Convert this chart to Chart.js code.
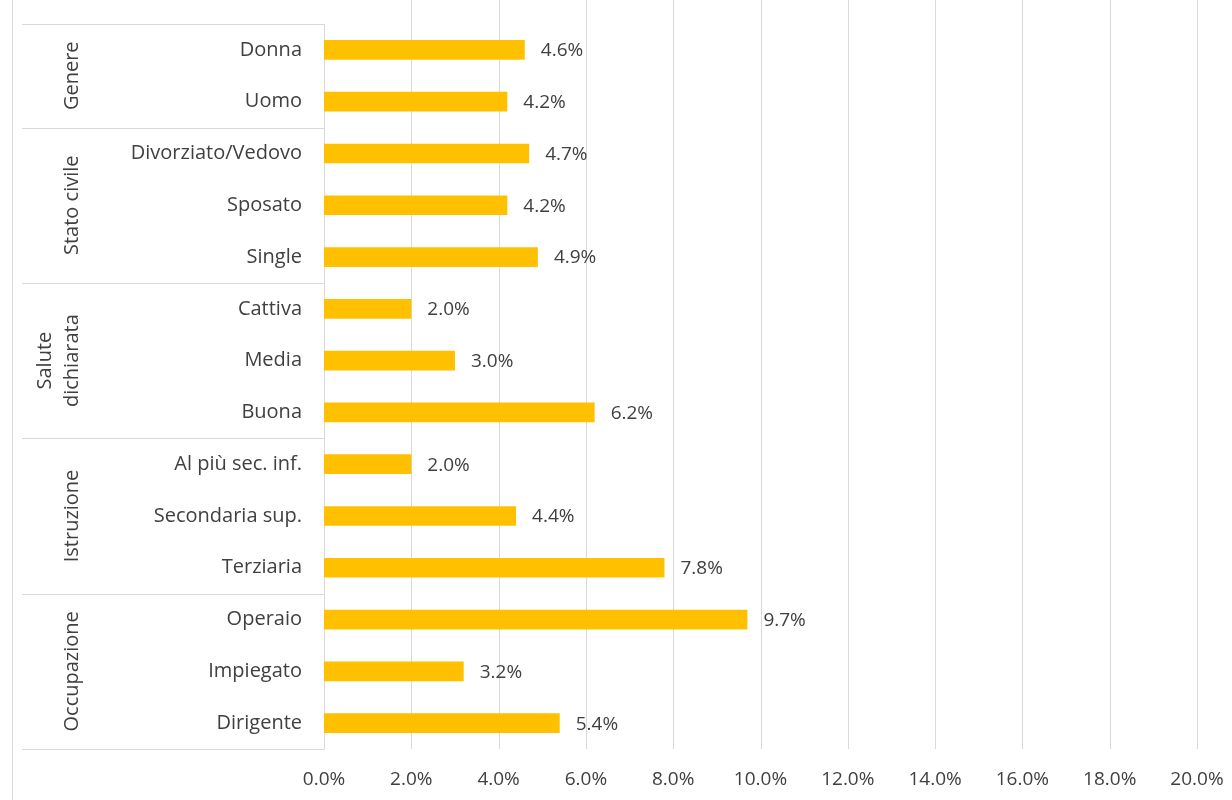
<!DOCTYPE html>
<html>
<head>
<meta charset="utf-8">
<script src="https://cdn.jsdelivr.net/npm/chart.js@4/dist/chart.umd.min.js"></script>
<style>
  html, body { margin: 0; padding: 0; background: #ffffff; }
  #wrap { width: 1232px; height: 800px; position: relative; }
</style>
</head>
<body>
<div id="wrap"><canvas id="chart" width="1232" height="800"></canvas></div>
<script>
const categories = [
  'Donna', 'Uomo',
  'Divorziato/Vedovo', 'Sposato', 'Single',
  'Cattiva', 'Media', 'Buona',
  'Al più sec. inf.', 'Secondaria sup.', 'Terziaria',
  'Operaio', 'Impiegato', 'Dirigente'
];
const values = [4.6, 4.2, 4.7, 4.2, 4.9, 2.0, 3.0, 6.2, 2.0, 4.4, 7.8, 9.7, 3.2, 5.4];

// group name (lines) and how many categories each one spans
const groupNames = [['Genere'], ['Stato civile'], ['Salute', 'dichiarata'], ['Istruzione'], ['Occupazione']];
const groupSizes = [2, 3, 3, 3, 3];

const xTicks = [0, 2, 4, 6, 8, 10, 12, 14, 16, 18, 20];

const FONT = '"Open Sans", "Noto Sans", sans-serif';
const TEXT = '#404040';
const LINE = '#d9d9d9';

const fmtPct = v => v.toFixed(1) + '%';

const decorations = {
  id: 'decorations',
  beforeDatasetsDraw(chart) {
    const { ctx, chartArea, scales } = chart;
    const x = scales.x, y = scales.y;
    ctx.save();
    ctx.strokeStyle = LINE;
    ctx.lineWidth = 1;

    // vertical gridlines, running up to the top edge
    xTicks.forEach(t => {
      if (t === 0) return;
      const px = Math.round(x.getPixelForValue(t)) + 0.5;
      ctx.beginPath();
      ctx.moveTo(px, 0);
      ctx.lineTo(px, chartArea.bottom);
      ctx.stroke();
    });

    // outer left border
    ctx.beginPath();
    ctx.moveTo(12.5, 0);
    ctx.lineTo(12.5, chart.height);
    ctx.stroke();

    // right edge of the label box
    const x0 = Math.round(x.getPixelForValue(0)) + 0.5;
    ctx.beginPath();
    ctx.moveTo(x0, chartArea.top);
    ctx.lineTo(x0, chartArea.bottom);
    ctx.stroke();

    // group separators and rotated group names
    const edge = i => {
      if (i <= 0) return chartArea.top;
      if (i >= categories.length) return chartArea.bottom;
      return (y.getPixelForValue(i - 1) + y.getPixelForValue(i)) / 2;
    };
    let start = 0;
    groupSizes.forEach((n, g) => {
      const top = edge(start), bottom = edge(start + n);
      [top, bottom].forEach(py => {
        const yy = Math.round(py) + 0.5;
        ctx.beginPath();
        ctx.moveTo(22, yy);
        ctx.lineTo(x0, yy);
        ctx.stroke();
      });
      const lines = groupNames[g];
      const lh = 27;
      ctx.save();
      ctx.translate(72 - (lines.length - 1) * lh / 2, (top + bottom) / 2);
      ctx.rotate(-Math.PI / 2);
      ctx.fillStyle = TEXT;
      ctx.font = '20px ' + FONT;
      ctx.textAlign = 'center';
      ctx.textBaseline = 'middle';
      lines.forEach((s, k) => {
        ctx.fillText(s, 0, (k - (lines.length - 1) / 2) * lh);
      });
      ctx.restore();
      start += n;
    });

    // category labels
    ctx.fillStyle = TEXT;
    ctx.font = '20px ' + FONT;
    ctx.textAlign = 'right';
    ctx.textBaseline = 'middle';
    categories.forEach((c, i) => {
      ctx.fillText(c, 302, y.getPixelForValue(i));
    });
    ctx.restore();
  },
  afterDatasetsDraw(chart) {
    const { ctx } = chart;
    const meta = chart.getDatasetMeta(0);
    ctx.save();
    ctx.fillStyle = TEXT;
    ctx.font = '19px ' + FONT;
    ctx.textAlign = 'left';
    ctx.textBaseline = 'middle';
    meta.data.forEach((bar, i) => {
      ctx.fillText(fmtPct(values[i]), bar.x + 16, bar.y + 1);
    });
    ctx.restore();
  }
};

new Chart(document.getElementById('chart'), {
  type: 'bar',
  data: {
    labels: categories,
    datasets: [{
      data: values,
      backgroundColor: '#FFC000',
      borderWidth: 0,
      categoryPercentage: 1,
      barPercentage: 0.38
    }]
  },
  options: {
    indexAxis: 'y',
    responsive: false,
    animation: false,
    layout: { padding: { left: 324, right: 35, top: 24, bottom: 0 } },
    plugins: {
      legend: { display: false },
      tooltip: { enabled: false }
    },
    scales: {
      x: {
        min: 0,
        max: 20,
        afterBuildTicks: axis => { axis.ticks = xTicks.map(v => ({ value: v })); },
        afterFit: axis => {
          axis.height = 51;
          axis.paddingLeft = 0;
          axis.paddingRight = 0;
        },
        grid: { display: false, drawTicks: false },
        border: { display: false },
        ticks: {
          padding: 19,
          color: TEXT,
          font: { family: FONT, size: 19 },
          callback: v => fmtPct(v)
        }
      },
      y: {
        display: false
      }
    }
  },
  plugins: [decorations]
});
</script>
</body>
</html>
